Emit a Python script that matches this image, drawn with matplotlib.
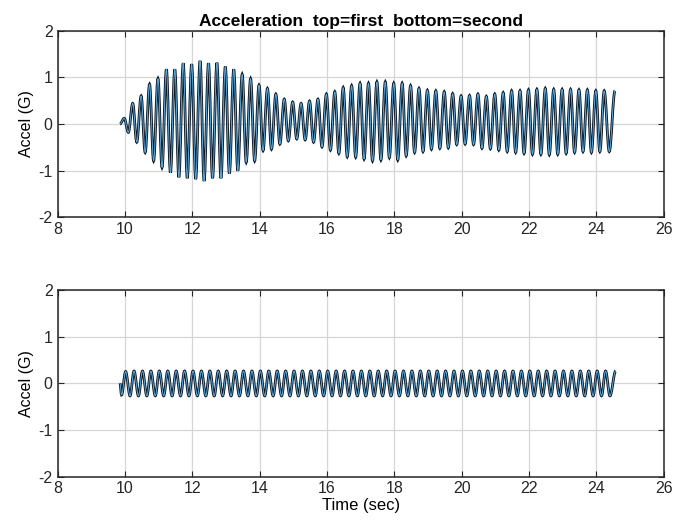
import numpy as np
import matplotlib.pyplot as plt
from matplotlib.path import Path
from matplotlib.patches import PathPatch

plt.rcParams['font.family'] = ['Liberation Sans', 'DejaVu Sans']
plt.rcParams['axes.unicode_minus'] = False

# ---- data (peak values of the oscillation) ----
# top trace (first): start point, upper peaks, lower peaks
top_start = (9.85, 0.0)
top_up_t = [9.98, 10.23, 10.48, 10.73, 10.98, 11.23, 11.48, 11.73, 11.98, 12.23,
            12.48, 12.73, 12.98, 13.23, 13.48, 13.73, 13.98, 14.23, 14.48, 14.73,
            14.98, 15.23, 15.48, 15.73, 15.98, 16.23, 16.48, 16.73, 16.98, 17.23,
            17.48, 17.73, 17.98, 18.23, 18.48, 18.73, 18.98, 19.23, 19.48, 19.73,
            19.98, 20.23, 20.48, 20.73, 20.98, 21.23, 21.48, 21.73, 21.98, 22.23,
            22.48, 22.73, 22.98, 23.23, 23.48, 23.73, 23.98, 24.23, 24.55]
top_up_v = [0.12, 0.44, 0.60, 0.85, 0.97, 1.17, 1.17, 1.30, 1.28, 1.35,
            1.30, 1.31, 1.23, 1.17, 1.06, 0.97, 0.83, 0.76, 0.64, 0.53,
            0.47, 0.44, 0.49, 0.53, 0.64, 0.69, 0.78, 0.82, 0.87, 0.87,
            0.90, 0.90, 0.87, 0.87, 0.82, 0.76, 0.72, 0.71, 0.69, 0.65,
            0.60, 0.61, 0.64, 0.59, 0.64, 0.67, 0.71, 0.71, 0.73, 0.74,
            0.76, 0.74, 0.74, 0.74, 0.73, 0.73, 0.71, 0.71, 0.71]
top_lo_t = [10.10, 10.35, 10.60, 10.85, 11.10, 11.35, 11.60, 11.85, 12.10, 12.35,
            12.60, 12.85, 13.10, 13.35, 13.60, 13.85, 14.10, 14.35, 14.60, 14.85,
            15.10, 15.35, 15.60, 15.85, 16.10, 16.35, 16.60, 16.85, 17.10, 17.35,
            17.60, 17.85, 18.10, 18.35, 18.60, 18.85, 19.10, 19.35, 19.60, 19.85,
            20.10, 20.35, 20.60, 20.85, 21.10, 21.35, 21.60, 21.85, 22.10, 22.35,
            22.60, 22.85, 23.10, 23.35, 23.60, 23.85, 24.10, 24.38]
top_lo_v = [-0.18, -0.39, -0.61, -0.79, -0.93, -1.04, -1.14, -1.16, -1.18, -1.22,
            -1.16, -1.16, -1.06, -1.00, -0.82, -0.79, -0.57, -0.54, -0.43, -0.36,
            -0.32, -0.34, -0.39, -0.49, -0.56, -0.63, -0.70, -0.71, -0.75, -0.79,
            -0.77, -0.72, -0.77, -0.68, -0.61, -0.59, -0.54, -0.52, -0.51, -0.44,
            -0.43, -0.44, -0.52, -0.53, -0.56, -0.59, -0.61, -0.63, -0.65, -0.65,
            -0.66, -0.65, -0.63, -0.61, -0.59, -0.61, -0.59, -0.59]

# bottom trace (second)
bot_start = (9.85, 0.0)
bot_up_t = [10.02, 10.27, 10.52, 10.77, 11.02, 11.27, 11.52, 11.77, 12.02, 12.27,
            12.52, 12.77, 13.02, 13.27, 13.52, 13.77, 14.02, 14.27, 14.52, 14.77,
            15.02, 15.27, 15.52, 15.77, 16.02, 16.27, 16.52, 16.77, 17.02, 17.27,
            17.52, 17.77, 18.02, 18.27, 18.52, 18.77, 19.02, 19.27, 19.52, 19.77,
            20.02, 20.27, 20.52, 20.77, 21.02, 21.27, 21.52, 21.77, 22.02, 22.27,
            22.52, 22.77, 23.02, 23.27, 23.52, 23.77, 24.02, 24.27, 24.57]
bot_up_v = [0.25, 0.26, 0.26, 0.26, 0.26, 0.26, 0.26, 0.26, 0.26, 0.26,
            0.26, 0.26, 0.26, 0.26, 0.26, 0.26, 0.26, 0.26, 0.26, 0.26,
            0.26, 0.26, 0.26, 0.26, 0.26, 0.26, 0.26, 0.26, 0.26, 0.26,
            0.26, 0.26, 0.26, 0.26, 0.26, 0.26, 0.26, 0.26, 0.26, 0.26,
            0.26, 0.26, 0.26, 0.26, 0.26, 0.26, 0.26, 0.26, 0.26, 0.26,
            0.26, 0.26, 0.26, 0.26, 0.26, 0.26, 0.26, 0.26, 0.26]
bot_lo_t = [9.90, 10.15, 10.40, 10.65, 10.90, 11.15, 11.40, 11.65, 11.90, 12.15,
            12.40, 12.65, 12.90, 13.15, 13.40, 13.65, 13.90, 14.15, 14.40, 14.65,
            14.90, 15.15, 15.40, 15.65, 15.90, 16.15, 16.40, 16.65, 16.90, 17.15,
            17.40, 17.65, 17.90, 18.15, 18.40, 18.65, 18.90, 19.15, 19.40, 19.65,
            19.90, 20.15, 20.40, 20.65, 20.90, 21.15, 21.40, 21.65, 21.90, 22.15,
            22.40, 22.65, 22.90, 23.15, 23.40, 23.65, 23.90, 24.15, 24.40]
bot_lo_v = [-0.25, -0.27, -0.27, -0.27, -0.27, -0.27, -0.27, -0.27, -0.27, -0.27,
            -0.27, -0.27, -0.27, -0.27, -0.27, -0.27, -0.27, -0.27, -0.27, -0.27,
            -0.27, -0.27, -0.27, -0.27, -0.27, -0.27, -0.27, -0.27, -0.27, -0.27,
            -0.27, -0.27, -0.27, -0.27, -0.27, -0.27, -0.27, -0.27, -0.27, -0.27,
            -0.27, -0.27, -0.27, -0.27, -0.27, -0.27, -0.27, -0.27, -0.27, -0.27,
            -0.27, -0.27, -0.27, -0.27, -0.27, -0.27, -0.27, -0.27, -0.27]

x_ticks = [8, 10, 12, 14, 16, 18, 20, 22, 24, 26]
y_ticks = [-2, -1, 0, 1, 2]


def trace(start, up_t, up_v, lo_t, lo_v):
    t = np.concatenate([[start[0]], up_t, lo_t])
    v = np.concatenate([[start[1]], up_v, lo_v])
    order = np.argsort(t)
    return t[order], v[order]


def smooth_path(t, v):
    # cubic Bezier between consecutive extrema, flat tangents at the peaks
    verts = [(t[0], v[0])]
    codes = [Path.MOVETO]
    for i in range(1, len(t)):
        d = 0.36 * (t[i] - t[i - 1])
        verts += [(t[i - 1] + d, v[i - 1]), (t[i] - d, v[i]), (t[i], v[i])]
        codes += [Path.CURVE4] * 3
    return Path(verts, codes)


def style_axes(ax):
    ax.set_xlim(8, 26)
    ax.set_ylim(-2, 2)
    ax.set_xticks(x_ticks)
    ax.set_yticks(y_ticks)
    ax.grid(True, color='#d6d6d6', linewidth=0.9)
    ax.set_axisbelow(True)
    ax.tick_params(direction='in', top=True, right=True, length=4,
                   labelsize=11.5, colors='#262626', width=0.8)
    for s in ax.spines.values():
        s.set_color('#262626')
        s.set_linewidth(1.1)
    ax.set_ylabel('Accel (G)', fontsize=11.5, labelpad=3)


fig = plt.figure(figsize=(6.85, 5.27), dpi=100)
ax1 = fig.add_axes([0.0841, 0.5875, 0.885, 0.3545])
ax2 = fig.add_axes([0.0841, 0.0956, 0.885, 0.3545])

for ax, data in ((ax1, trace(top_start, top_up_t, top_up_v, top_lo_t, top_lo_v)),
                 (ax2, trace(bot_start, bot_up_t, bot_up_v, bot_lo_t, bot_lo_v))):
    p = smooth_path(*data)
    ax.add_patch(PathPatch(p, fill=False, edgecolor='#0b1622', linewidth=2.0))
    ax.add_patch(PathPatch(p, fill=False, edgecolor='#5aaade', linewidth=0.7))
    style_axes(ax)

ax1.set_title('Acceleration  top=first  bottom=second', fontsize=12.5,
              fontweight='bold', pad=3)
ax2.set_xlabel('Time (sec)', fontsize=12, labelpad=1)

fig.savefig('out.png', dpi=100)
